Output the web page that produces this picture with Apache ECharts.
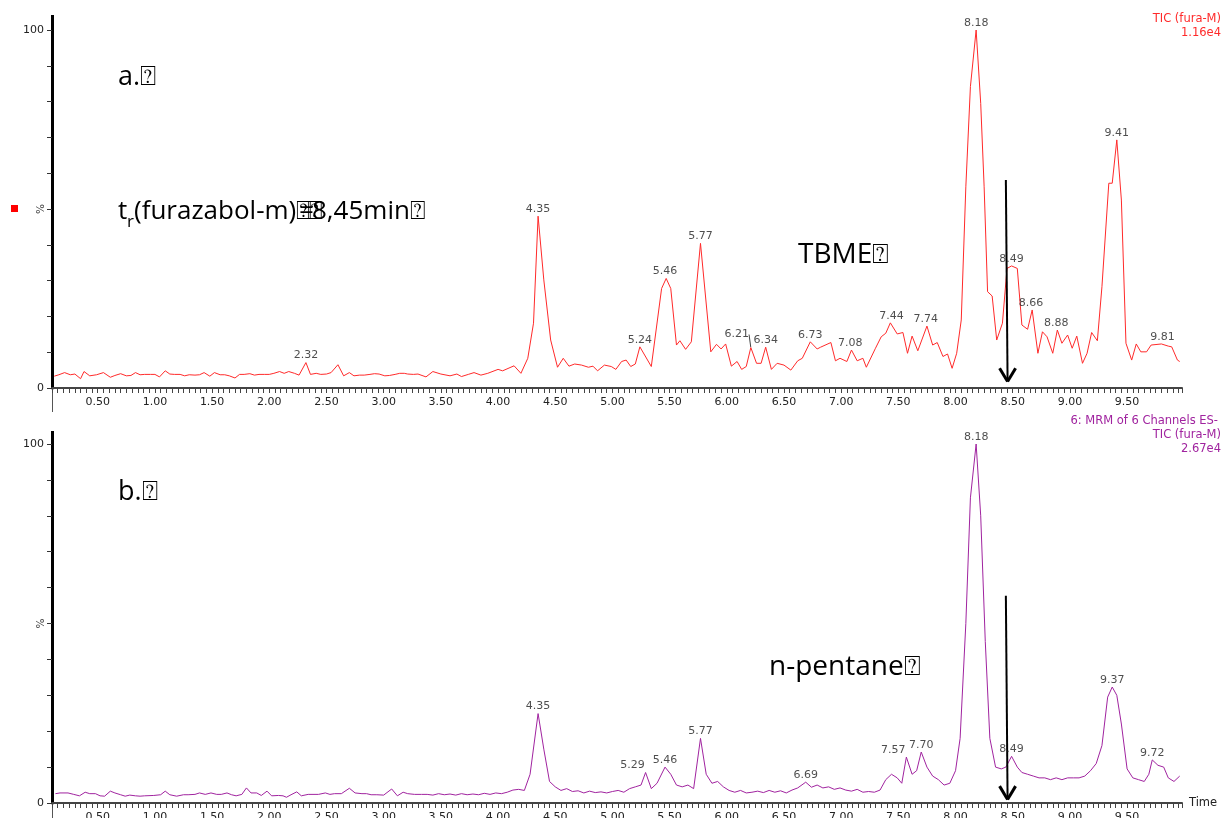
<!DOCTYPE html>
<html><head><meta charset="utf-8">
<script src="https://cdn.jsdelivr.net/npm/echarts@6/dist/echarts.min.js"></script>
<style>html,body{margin:0;padding:0;background:#fff}#c{width:1224px;height:818px}</style>
</head><body><div id="c"></div>
<script>
// ---------- DATA ----------
// Top chromatogram (a, TBME), [time (min), relative intensity %]
const topTrace = [[0.12,3.3],[0.16,3.7],[0.21,4.3],[0.26,3.7],[0.30,3.9],[0.35,2.6],[0.38,4.6],[0.43,3.4],[0.49,3.7],[0.55,4.3],[0.61,3.0],[0.65,3.5],[0.70,4.0],[0.75,3.4],[0.79,3.5],[0.83,4.3],[0.87,3.7],[0.91,3.8],[0.96,3.8],[1.00,3.8],[1.04,3.1],[1.09,4.8],[1.13,3.9],[1.17,3.8],[1.22,3.8],[1.26,3.4],[1.30,3.7],[1.35,3.6],[1.39,3.7],[1.43,4.3],[1.48,3.3],[1.52,4.3],[1.57,3.7],[1.61,3.7],[1.65,3.4],[1.70,2.8],[1.74,3.8],[1.78,3.8],[1.83,4.0],[1.87,3.6],[1.91,3.8],[1.96,3.8],[2.00,3.8],[2.04,4.1],[2.09,4.6],[2.13,4.1],[2.17,4.6],[2.22,4.1],[2.26,3.6],[2.32,7.1],[2.36,3.8],[2.41,4.1],[2.45,3.8],[2.50,3.9],[2.54,4.3],[2.60,6.5],[2.65,3.4],[2.70,4.3],[2.74,3.4],[2.79,3.6],[2.83,3.6],[2.88,3.8],[2.92,4.0],[2.96,3.9],[3.01,3.4],[3.05,3.5],[3.10,3.8],[3.14,4.1],[3.18,4.1],[3.21,3.9],[3.26,3.8],[3.30,3.9],[3.37,3.1],[3.43,4.6],[3.50,3.9],[3.58,3.4],[3.64,3.9],[3.68,3.2],[3.74,3.8],[3.79,4.3],[3.85,3.6],[3.91,4.1],[4.00,5.2],[4.04,4.8],[4.14,6.2],[4.20,4.1],[4.26,8.3],[4.31,18.1],[4.35,48.0],[4.40,30.2],[4.46,13.4],[4.52,5.8],[4.57,8.3],[4.62,6.1],[4.67,6.7],[4.73,6.4],[4.79,5.8],[4.83,6.1],[4.87,4.8],[4.93,6.4],[4.99,6.0],[5.03,5.2],[5.08,7.4],[5.12,7.8],[5.16,6.0],[5.20,6.7],[5.24,11.5],[5.34,6.0],[5.43,27.8],[5.47,30.6],[5.51,27.8],[5.56,12.0],[5.59,13.2],[5.64,10.8],[5.69,12.9],[5.77,40.4],[5.86,10.1],[5.91,12.2],[5.95,10.9],[5.99,12.3],[6.04,6.1],[6.09,7.4],[6.13,5.2],[6.17,6.0],[6.21,11.3],[6.26,6.9],[6.30,6.9],[6.34,11.4],[6.39,5.2],[6.44,6.9],[6.50,6.4],[6.56,5.0],[6.62,7.6],[6.66,8.3],[6.73,12.9],[6.79,10.9],[6.82,11.4],[6.91,12.7],[6.95,7.6],[6.99,8.3],[7.05,7.4],[7.09,10.6],[7.14,7.6],[7.19,8.3],[7.22,5.8],[7.30,11.1],[7.35,14.3],[7.39,15.3],[7.43,18.2],[7.49,15.1],[7.54,15.5],[7.58,9.7],[7.62,14.5],[7.67,10.4],[7.75,17.3],[7.80,12.0],[7.84,12.7],[7.89,8.8],[7.93,9.5],[7.97,5.5],[8.01,9.7],[8.05,19.0],[8.09,56.2],[8.13,84.2],[8.18,100],[8.22,79.5],[8.25,56.2],[8.28,26.9],[8.32,25.7],[8.36,13.4],[8.41,18.1],[8.45,33.4],[8.49,34.1],[8.54,33.4],[8.58,17.6],[8.63,16.4],[8.67,21.8],[8.72,9.7],[8.76,15.7],[8.80,14.3],[8.85,9.7],[8.89,16.2],[8.93,12.5],[8.98,14.8],[9.02,11.1],[9.06,14.5],[9.11,6.9],[9.15,9.7],[9.19,15.5],[9.24,13.2],[9.28,28.3],[9.34,57.2],[9.37,57.2],[9.41,69.3],[9.45,52.5],[9.49,12.5],[9.54,7.8],[9.58,12.3],[9.62,10.1],[9.67,10.1],[9.71,12.0],[9.80,12.3],[9.86,11.7],[9.89,11.5],[9.94,7.8],[9.96,7.4]];

// Bottom chromatogram (b, n-pentane)
const bottomTrace = [[0.13,2.6],[0.17,2.8],[0.24,2.8],[0.29,2.4],[0.34,2.0],[0.39,3.0],[0.43,2.6],[0.48,2.6],[0.52,2.0],[0.56,1.9],[0.61,3.3],[0.65,2.8],[0.70,2.3],[0.74,1.9],[0.78,2.2],[0.83,2.0],[0.87,1.9],[0.91,2.0],[0.99,2.1],[1.05,2.3],[1.09,3.3],[1.13,2.3],[1.19,1.9],[1.25,2.3],[1.29,2.3],[1.35,2.4],[1.39,2.8],[1.44,2.4],[1.49,2.8],[1.54,2.4],[1.58,2.4],[1.63,2.8],[1.67,2.3],[1.71,2.0],[1.76,2.4],[1.80,4.2],[1.84,2.8],[1.89,2.8],[1.93,2.1],[1.98,3.3],[2.02,2.0],[2.08,2.1],[2.12,2.0],[2.15,1.6],[2.19,2.3],[2.24,3.1],[2.28,2.0],[2.34,2.4],[2.43,2.4],[2.49,2.8],[2.53,2.4],[2.57,2.6],[2.63,2.6],[2.70,4.1],[2.75,2.8],[2.81,2.6],[2.85,2.6],[2.89,2.3],[2.94,2.3],[3.00,2.2],[3.07,3.9],[3.12,2.0],[3.17,3.0],[3.21,2.6],[3.27,2.4],[3.33,2.4],[3.38,2.4],[3.43,2.2],[3.48,2.6],[3.53,2.3],[3.58,2.5],[3.63,2.2],[3.68,2.6],[3.73,2.3],[3.78,2.5],[3.83,2.3],[3.88,2.7],[3.93,2.4],[3.98,2.8],[4.03,2.6],[4.08,3.0],[4.13,3.6],[4.18,3.8],[4.23,3.5],[4.28,8.0],[4.35,24.9],[4.40,15.0],[4.45,6.0],[4.50,4.5],[4.55,3.5],[4.60,4.0],[4.65,3.2],[4.70,3.4],[4.75,2.8],[4.80,3.3],[4.85,2.9],[4.90,3.1],[4.95,2.8],[5.00,3.2],[5.05,3.5],[5.10,3.0],[5.15,4.0],[5.20,4.5],[5.25,5.0],[5.29,8.5],[5.34,4.0],[5.39,5.5],[5.46,10.0],[5.51,8.0],[5.56,5.0],[5.61,4.5],[5.66,5.0],[5.71,4.0],[5.77,18.0],[5.82,8.0],[5.87,5.5],[5.92,6.0],[5.97,4.5],[6.02,3.5],[6.07,3.0],[6.12,3.5],[6.17,2.8],[6.22,3.0],[6.27,3.3],[6.32,2.9],[6.37,3.5],[6.42,3.0],[6.47,3.4],[6.52,2.8],[6.57,3.6],[6.62,4.2],[6.69,5.8],[6.74,4.4],[6.79,5.0],[6.84,4.2],[6.89,4.5],[6.94,3.8],[6.99,4.2],[7.04,3.6],[7.09,3.3],[7.14,3.8],[7.19,3.0],[7.24,3.2],[7.29,3.0],[7.34,3.6],[7.39,6.5],[7.44,8.0],[7.49,7.0],[7.53,5.5],[7.57,12.8],[7.62,8.0],[7.66,9.0],[7.70,14.2],[7.75,10.0],[7.80,7.5],[7.85,6.5],[7.90,5.0],[7.95,5.5],[8.00,9.0],[8.04,18.0],[8.09,50.0],[8.13,85.0],[8.18,100],[8.22,80.0],[8.26,45.0],[8.30,18.0],[8.35,10.0],[8.40,9.5],[8.44,10.0],[8.49,13.0],[8.54,10.0],[8.58,8.5],[8.63,8.0],[8.68,7.5],[8.73,7.0],[8.78,7.0],[8.83,6.5],[8.88,7.0],[8.93,6.5],[8.98,7.0],[9.03,7.0],[9.08,7.0],[9.13,7.5],[9.18,9.0],[9.23,11.0],[9.28,16.0],[9.33,29.5],[9.37,32.3],[9.41,30.0],[9.45,22.0],[9.50,9.5],[9.55,7.0],[9.60,6.5],[9.65,6.0],[9.69,8.0],[9.72,12.0],[9.77,10.5],[9.82,10.0],[9.86,7.0],[9.91,6.0],[9.96,7.5]];

// Peak retention-time labels [time, intensity]; "Shifted" ones are drawn left of their peak
const topPeaks = [[2.32,7.1],[4.35,48.0],[5.24,11.5],[5.46,30.6],[5.77,40.4],[6.34,11.4],[6.73,12.9],[7.08,10.6],[7.44,18.2],[7.74,17.3],[8.18,100],[8.49,34.1],[8.66,21.8],[8.88,16.2],[9.41,69.3],[9.81,12.3]];
const topPeaksShifted = [[6.21,11.3]];
const bottomPeaks = [[4.35,24.9],[5.46,10.0],[5.77,18.0],[6.69,5.8],[7.70,14.2],[8.18,100],[8.49,13.0],[9.37,32.3],[9.72,12.0]];
const bottomPeaksShifted = [[5.29,8.5],[7.57,12.8]];

// Arrows marking t_r = 8.45 min: [time, intensity] start -> tip
const topArrow = [[8.44,58.1],[8.455,1.8]];
const bottomArrow = [[8.44,57.7],[8.455,1.0]];

const xTickLabels = ['0.50','1.00','1.50','2.00','2.50','3.00','3.50','4.00','4.50','5.00','5.50','6.00','6.50','7.00','7.50','8.00','8.50','9.00','9.50'];
const yTickLabels = {0:'0',100:'100'};

const headerTop = ['TIC (fura-M)','1.16e4'];
const headerBottom = ['6: MRM of 6 Channels ES-','TIC (fura-M)','2.67e4'];

// ---------- CHART ----------
const RED = '#ff2a2a', PURPLE = '#a0239f';
const FONT = 'DejaVu Sans';
const chart = echarts.init(document.getElementById('c'), null, {renderer:'canvas'});

function xAxisCfg(gi, withName){
  return {
    type:'value', gridIndex:gi, min:0.1, max:9.98, interval:0.05,
    axisLine:{show:true, onZero:false, lineStyle:{color:'#444', width:2}},
    axisTick:{show:true, length:5, lineStyle:{color:'#444', width:1}},
    axisLabel:{margin:9, color:'#222', fontFamily:FONT, fontSize:11, hideOverlap:false,
      formatter:v=>{const s=(Math.round(v*100)/100).toFixed(2); return xTickLabels.includes(s)?s:'';}},
    splitLine:{show:false},
    name: withName?'Time':'', nameLocation:'end', nameGap:7, nameMoveOverlap:false,
    nameTextStyle:{fontFamily:FONT, fontSize:11.5, color:'#222', verticalAlign:'middle'}
  };
}
function yAxisCfg(gi){
  return {
    type:'value', gridIndex:gi, min:0, max:100, interval:10,
    axisLine:{show:true, onZero:false, lineStyle:{color:'#000', width:3}},
    axisTick:{show:true, length:5, lineStyle:{color:'#333', width:1}},
    axisLabel:{margin:8, color:'#222', fontFamily:FONT, fontSize:11,
      formatter:v=>yTickLabels[v]!==undefined?yTickLabels[v]:''},
    splitLine:{show:false},
    name:'%', nameLocation:'middle', nameGap:5, nameRotate:90, nameMoveOverlap:false,
    nameTextStyle:{fontFamily:FONT, fontSize:10.5, color:'#444'}
  };
}
function arrowMark(a){
  const [s,t]=a;
  const dx=0.07, dy=3.7;
  return {silent:true, symbol:['none','none'], animation:false, label:{show:false},
    lineStyle:{color:'#000', width:2, type:'solid'},
    emphasis:{disabled:true},
    data:[
      [{coord:s},{coord:t}],
      [{coord:[t[0]-dx,t[1]+dy], lineStyle:{width:3, color:'#000', type:'solid'}},{coord:t}],
      [{coord:[t[0]+dx,t[1]+dy], lineStyle:{width:3, color:'#000', type:'solid'}},{coord:t}]
    ]};
}
function peakSeries(peaks, xi, shift, leader){
  const s = {type:'scatter', xAxisIndex:xi, yAxisIndex:xi, symbol:'circle', symbolSize:1,
    itemStyle:{color:'rgba(0,0,0,0)'}, silent:true, z:5,
    label:{show:true, position:'top', distance:1, color:'#222', fontFamily:FONT, fontSize:11,
      formatter:p=>p.value[0].toFixed(2)},
    labelLayout: shift ? {hideOverlap:false, dx:shift[0], dy:shift[1]} : {hideOverlap:false},
    data:peaks};
  if (leader) s.labelLine = {show:true, lineStyle:{color:'#444', width:1}, length2:0};
  return s;
}

const gridCommon = {left:52, right:42, containLabel:false, outerBoundsMode:'none'};
const option = {
  animation:false,
  backgroundColor:'#fff',
  grid:[
    Object.assign({top:30, bottom:430}, gridCommon),
    Object.assign({top:444, bottom:15}, gridCommon)
  ],
  xAxis:[xAxisCfg(0,false), xAxisCfg(1,true)],
  yAxis:[yAxisCfg(0), yAxisCfg(1)],
  series:[
    {type:'line', xAxisIndex:0, yAxisIndex:0, data:topTrace, showSymbol:false, symbol:'none',
      lineStyle:{color:RED, width:1}, z:3, markLine:arrowMark(topArrow)},
    {type:'line', xAxisIndex:1, yAxisIndex:1, data:bottomTrace, showSymbol:false, symbol:'none',
      lineStyle:{color:PURPLE, width:1}, z:3, markLine:arrowMark(bottomArrow)},
    peakSeries(topPeaks, 0),
    peakSeries(topPeaksShifted, 0, [-14,-6], true),
    peakSeries(bottomPeaks, 1),
    peakSeries(bottomPeaksShifted, 1, [-13,0], false)
  ],
  graphic:[
    {type:'line', shape:{x1:52.5,y1:15,x2:52.5,y2:30}, style:{stroke:'#000', lineWidth:3}},
    {type:'line', shape:{x1:52.5,y1:389,x2:52.5,y2:412}, style:{stroke:'#555', lineWidth:1}},
    {type:'line', shape:{x1:52.5,y1:431,x2:52.5,y2:444}, style:{stroke:'#000', lineWidth:3}},
    {type:'line', shape:{x1:52.5,y1:804,x2:52.5,y2:818}, style:{stroke:'#555', lineWidth:1}},
    {type:'rect', shape:{x:11,y:205,width:7,height:7}, style:{fill:'#ff0000'}},
    {type:'text', x:1221, y:19, style:{text:headerTop[0], fill:RED, font:'11.5px "DejaVu Sans"', textAlign:'right', textVerticalAlign:'middle'}},
    {type:'text', x:1221, y:33, style:{text:headerTop[1], fill:RED, font:'11.5px "DejaVu Sans"', textAlign:'right', textVerticalAlign:'middle'}},
    {type:'text', x:1218, y:421, style:{text:headerBottom[0], fill:PURPLE, font:'11.5px "DejaVu Sans"', textAlign:'right', textVerticalAlign:'middle'}},
    {type:'text', x:1221, y:435, style:{text:headerBottom[1], fill:PURPLE, font:'11.5px "DejaVu Sans"', textAlign:'right', textVerticalAlign:'middle'}},
    {type:'text', x:1221, y:449, style:{text:headerBottom[2], fill:PURPLE, font:'11.5px "DejaVu Sans"', textAlign:'right', textVerticalAlign:'middle'}},
    {type:'text', x:118, y:77, style:{text:'a.⍰', fill:'#000', font:'27px "Open Sans"', textVerticalAlign:'middle'}},
    {type:'text', x:118, y:212, style:{text:'t', fill:'#000', font:'26px "Open Sans"', textVerticalAlign:'middle'}},
    {type:'text', x:127, y:222, style:{text:'r', fill:'#000', font:'17px "Open Sans"', textVerticalAlign:'middle'}},
    {type:'text', x:134, y:212, style:{text:'(furazabol-m)⍰', fill:'#000', font:'26px "Open Sans"', textVerticalAlign:'middle'}},
    {type:'text', x:299, y:212, style:{text:'=', fill:'#000', font:'26px "Open Sans"', textVerticalAlign:'middle'}},
    {type:'text', x:307, y:212, style:{text:'⍰', fill:'#000', font:'26px "Open Sans"', textVerticalAlign:'middle'}},
    {type:'text', x:312, y:212, style:{text:'8,45min⍰', fill:'#000', font:'26px "Open Sans"', textVerticalAlign:'middle'}},
    {type:'text', x:798, y:255, style:{text:'TBME⍰', fill:'#000', font:'28px "Open Sans"', textVerticalAlign:'middle'}},
    {type:'text', x:118, y:492, style:{text:'b.⍰', fill:'#000', font:'27px "Open Sans"', textVerticalAlign:'middle'}},
    {type:'text', x:769, y:667, style:{text:'n-pentane⍰', fill:'#000', font:'28px "Open Sans"', textVerticalAlign:'middle'}}
  ]
};
chart.setOption(option);
</script>
</body></html>
